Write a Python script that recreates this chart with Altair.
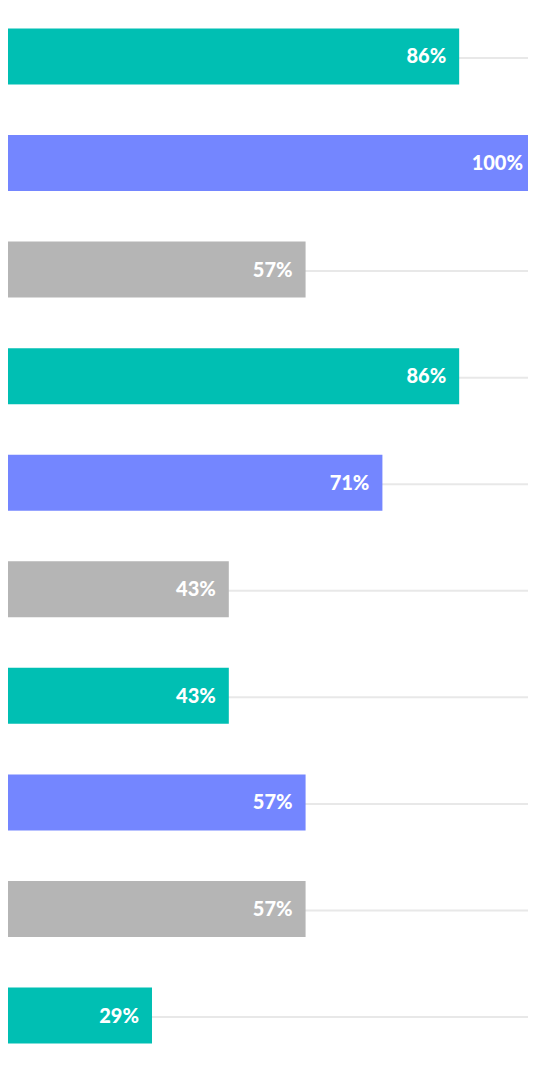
import altair as alt
import pandas as pd

categories = ["A", "B", "C", "D", "E", "F", "G", "H", "I", "J"]
values = [85.71, 100.0, 57.14, 85.71, 71.43, 42.86, 42.86, 57.14, 57.14, 28.57]
labels = ["86%", "100%", "57%", "86%", "71%", "43%", "43%", "57%", "57%", "29%"]
groups = ["g1", "g2", "g3", "g1", "g2", "g3", "g1", "g2", "g3", "g1"]
colors = ["#00BFB3", "#7486FF", "#B5B5B5"]

df = pd.DataFrame({"cat": categories, "value": values, "label": labels, "group": groups})
df["full"] = 100.0

y = alt.Y("cat:N", sort=None, axis=None,
          scale=alt.Scale(paddingInner=0.4747, paddingOuter=0.1923))
xscale = alt.Scale(domain=[0, 100], nice=False, zero=True)

base = alt.Chart(df)

grid = base.mark_rule(color="#E8E8E8", strokeWidth=2, yOffset=1.5).encode(
    y=y,
    x=alt.X("full:Q", scale=xscale, axis=None),
    x2=alt.datum(0),
)

bars = base.mark_bar(cornerRadius=0).encode(
    y=y,
    x=alt.X("value:Q", scale=xscale, axis=None),
    color=alt.Color("group:N", scale=alt.Scale(domain=["g1", "g2", "g3"], range=colors), legend=None),
)

text = base.mark_text(
    align="right", baseline="middle", dx=-13, dy=1,
    font="Lato", fontSize=20, fontWeight=900, color="white",
).encode(
    y=y,
    x=alt.X("value:Q", scale=xscale, axis=None),
    text="label:N",
)

chart = alt.layer(grid, bars, text).properties(
    width=537.6, height=1056,
    autosize=alt.AutoSizeParams(type="none"),
    padding={"left": -9.6, "right": -8, "top": 0, "bottom": -10},
).configure_view(stroke=None)

chart.save("out.html", embed_options={"renderer": "svg", "actions": False})
